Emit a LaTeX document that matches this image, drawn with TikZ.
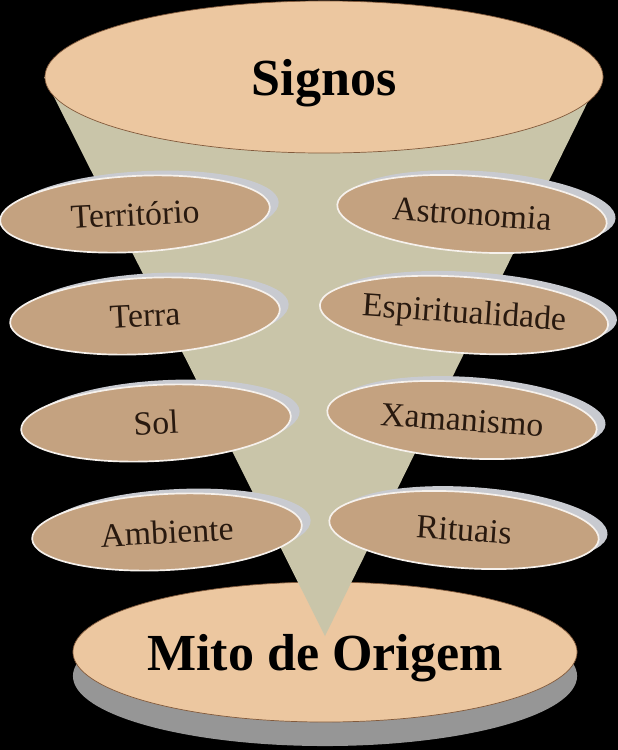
\documentclass[tikz,border=0pt]{standalone}
\usepackage{fontspec}
\setmainfont{Liberation Serif}
\usepackage{xcolor}
\usepackage{tikz}
\usetikzlibrary{shapes.geometric,shadows,positioning}
\definecolor{SGNpeach}{RGB}{236,199,160}
\definecolor{SGNcone}{RGB}{201,197,169}
\definecolor{SGNtan}{RGB}{196,162,128}
\definecolor{SGNrim}{RGB}{200,202,208}
\definecolor{SGNgray}{RGB}{150,150,150}
\definecolor{SGNbrown}{RGB}{130,90,60}
\definecolor{SGNink}{RGB}{40,25,15}
\tikzstyle{bigdisc} = [ellipse, fill=SGNpeach, draw=SGNbrown, line width=0.5pt,
                       inner sep=0pt, text depth=0pt,
                       font=\fontsize{37}{40}\selectfont\bfseries]
\tikzstyle{Btop}    = [bigdisc, minimum width=13.95cm, minimum height=3.8cm]
\tikzstyle{Bbase}   = [bigdisc, minimum width=12.6cm, minimum height=3.5cm,
                       general shadow={shadow yshift=-0.6cm, fill=SGNgray}]
\tikzstyle{sign}    = [ellipse, fill=SGNtan, draw=white!85!SGNtan, line width=1.2pt,
                       minimum width=6.75cm, minimum height=1.9cm, inner sep=0pt,
                       font=\fontsize{24}{26}\selectfont, text=SGNink,
                       general shadow={shadow xshift=0.22cm, shadow yshift=0.12cm, fill=SGNrim}]
\tikzstyle{Sleft}   = [sign, rotate=3]
\tikzstyle{Sright}  = [sign, rotate=-4]

\begin{document}
\begin{tikzpicture}[x=0.025cm, y=-0.025cm]

  % background
  \fill[black] (0,0) rectangle (618,750);
  \useasboundingbox (0,0) rectangle (618,750);

  \node[Bbase] (mito) at (325,652) {Mito de Origem};

  % cone
  \coordinate (cl) at (44,77);
  \coordinate (cr) at (600,77);
  \coordinate (tip) at (325,636);
  \fill[SGNcone] (cl) -- (tip) -- (cr) -- cycle;

  \node[Btop] (signos) at (324,77) {Signos};

  \node[Sleft]  (territorio) at (135,214) {Território};
  \node[Sleft]  (terra)      at (145,316) {Terra};
  \node[Sleft]  (sol)        at (156,423) {Sol};
  \node[Sleft]  (ambiente)   at (167,532) {Ambiente};

  \node[Sright] (astro)  at (472,214) {Astronomia};
  \node[Sright] (espir)  at (464,315) {Espiritualidade};
  \node[Sright] (xama)   at (462,420) {Xamanismo};
  \node[Sright] (ritos)  at (464,530) {Rituais};

\end{tikzpicture}
\end{document}
